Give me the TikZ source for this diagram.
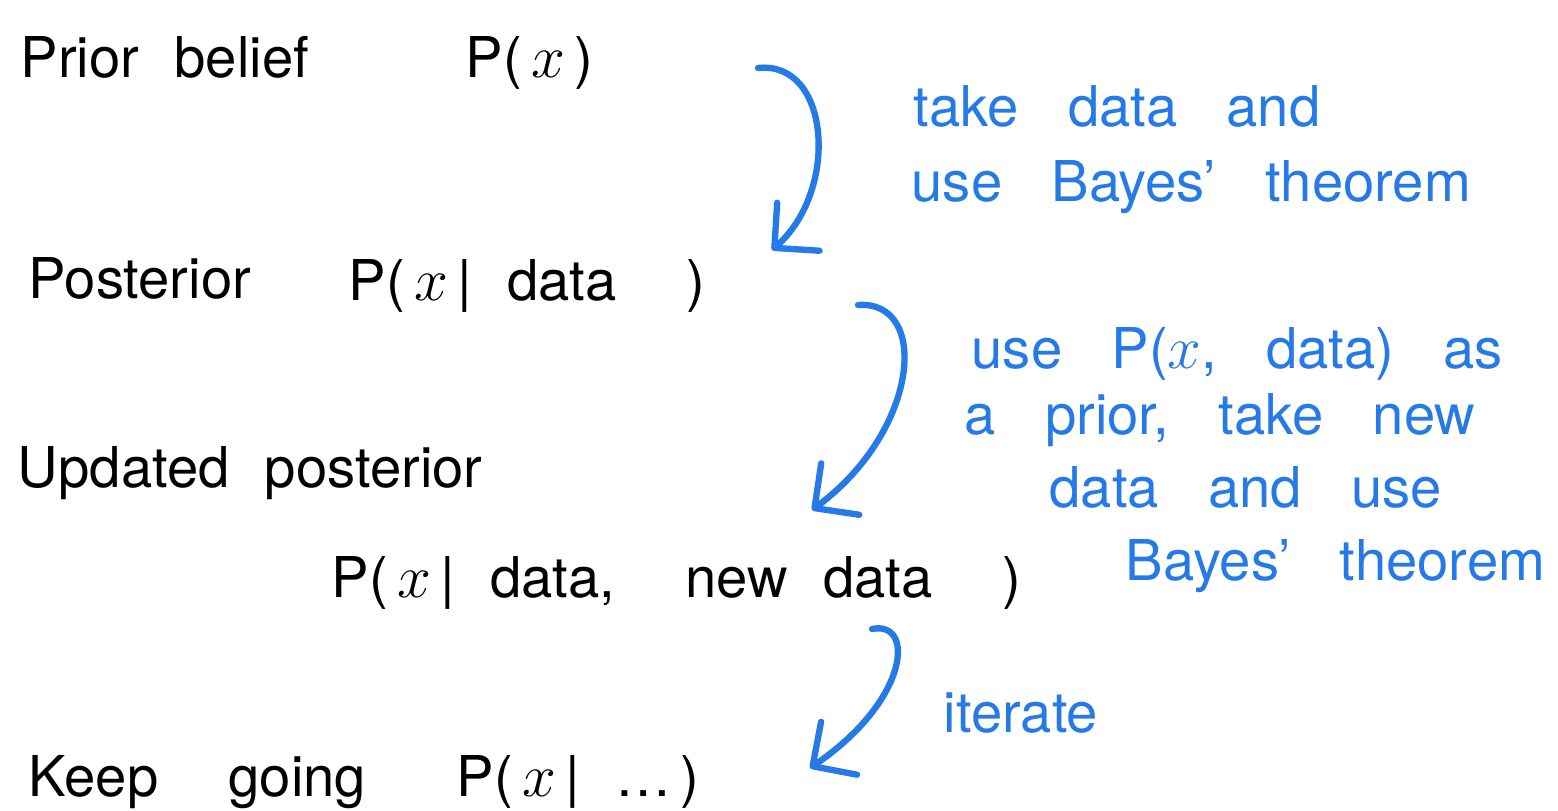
\documentclass[tikz,border=0pt]{standalone}
\usepackage{fontspec}
\setmainfont{TeX Gyre Heros}
\usetikzlibrary{arrows.meta}
\definecolor{penblue}{RGB}{38,122,232}
\newcommand{\handfont}{\fontsize{16}{19}\selectfont\spaceskip=10pt\relax}
\newcommand{\notefont}{\fontsize{16}{19}\selectfont\spaceskip=14pt\relax}

\begin{document}
\begin{tikzpicture}[
    hand/.style={anchor=base west, inner sep=0pt, font=\handfont},
    note/.style={anchor=base west, inner sep=0pt, font=\notefont, text=penblue},
    hookarrow/.style={draw=penblue, line width=1.8pt, line cap=round, -{Straight Barb[length=3.2mm, width=6.4mm, round]}}
]

% Canvas
\fill[white] (0,0) rectangle (15.58,-8.11);
\useasboundingbox (0,0) rectangle (15.58,-8.11);

% Beliefs
\node[hand] (prior) at (0.20,-0.78) {Prior belief};
\node[hand] (priorP) at (4.65,-0.78) {P(\,$x$\,)};
\node[hand] (post) at (0.28,-2.98) {Posterior};
\node[hand] (postP) at (3.48,-3.00) {P(\,$x$\,| data \ )};
\node[hand] (upd) at (0.17,-4.87) {Updated posterior};
\node[hand] (updP) at (3.31,-5.97) {P(\,$x$\,| data, \ new data \ )};
\node[hand] (keep) at (0.28,-7.96) {Keep \ going};
\node[hand] (keepP) at (4.56,-7.96) {P(\,$x$\,| \ldots\,)};

% Notes
\node[note] (n1a) at (9.13,-1.26) {take data and};
\node[note] (n1b) at (9.11,-2.01) {use Bayes' theorem};
\node[note] (n2a) at (9.71,-3.68) {use P($x$, data) as};
\node[note] (n2b) at (9.64,-4.34) {a prior, take new};
\node[note] (n2c) at (10.49,-5.07) {data and use};
\node[note] (n2d) at (11.25,-5.80) {Bayes' theorem};
\node[note] (n3) at (9.43,-7.32) {iterate};

% Arrow ends
\coordinate (a1s) at (7.58,-0.68);
\coordinate (a1e) at (7.72,-2.50);
\coordinate (a2s) at (8.58,-3.05);
\coordinate (a2e) at (8.12,-5.10);
\coordinate (a3s) at (8.72,-6.29);
\coordinate (a3e) at (8.10,-7.68);

% Arrows
\draw[hookarrow] (a1s) .. controls (8.3,-0.6) and (8.4,-1.9) .. (a1e);
\draw[hookarrow] (a2s) .. controls (9.3,-3.0) and (9.2,-4.3) .. (a2e);
\draw[hookarrow] (a3s) .. controls (9.15,-6.2) and (9.1,-7.0) .. (a3e);

\end{tikzpicture}
\end{document}
